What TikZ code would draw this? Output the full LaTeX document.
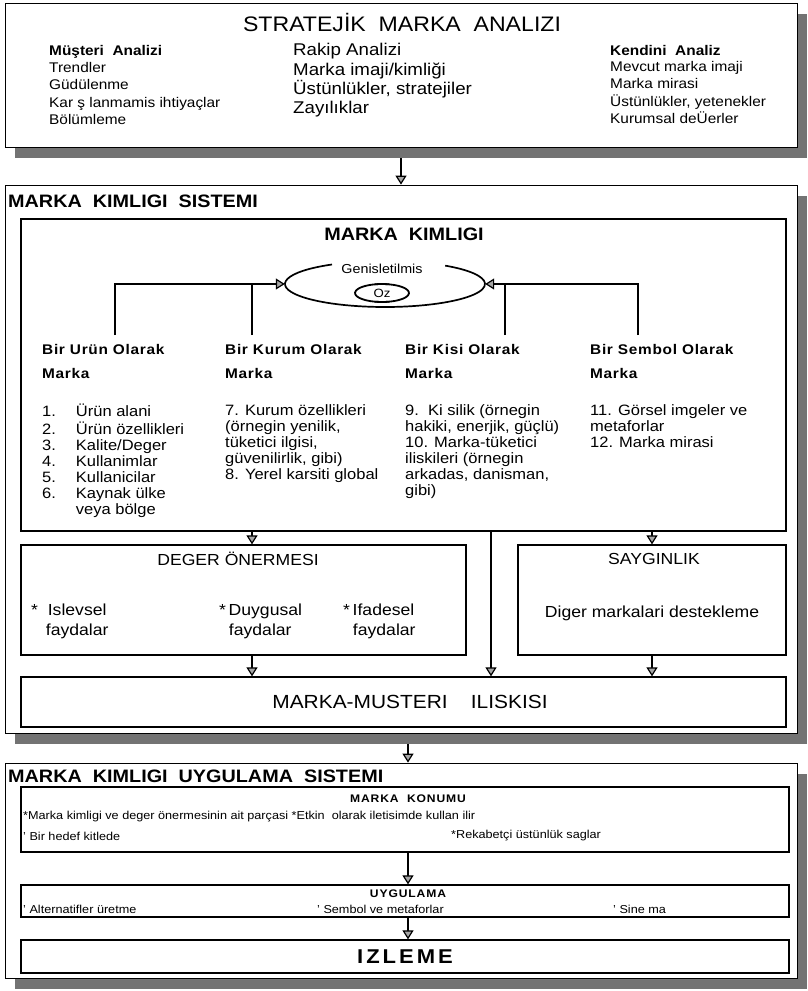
\documentclass[tikz,border=0pt]{standalone}
\usepackage{fontspec}
\setmainfont[FakeStretch=1.1]{Liberation Sans}
\usetikzlibrary{arrows.meta,shapes.geometric,shadows}
\newcommand{\fs}[2]{\fontsize{#1}{#2}\selectfont}

\begin{document}
\begin{tikzpicture}[x=1pt, y=-1pt,
    every node/.style={inner sep=0pt},
    panel/.style={draw, line width=0.8pt, fill=white,
      drop shadow={shadow xshift=10pt, shadow yshift=-11pt, fill=black!55, opacity=1}},
    frame/.style={draw, line width=1.3pt, fill=white},
    arr/.style={line width=1.2pt, -{Triangle[length=9pt, width=11pt, fill=black!35]}},
    link/.style={line width=1.2pt},
    head/.style={font=\bfseries\fs{18}{21}},
    colhead/.style={anchor=north west, align=left, font=\bfseries\fs{14}{24}\addfontfeature{LetterSpace=5}},
    items/.style={anchor=north west, align=left, font=\fs{15}{16}},
    small/.style={anchor=west, font=\fs{11.5}{13}},
    ]
  \useasboundingbox (0,0) rectangle (808,991);

  \node[panel, minimum width=792pt, minimum height=144pt] (sma) at (401,75) {};
  \node[font=\fs{21}{24}] (smat) at (402,22) {STRATEJİK\ \ MARKA\ \ ANALIZI};
  \node[anchor=west, font=\bfseries\fs{14}{16}] (mus) at (49,52) {Müşteri\ \ Analizi};
  \node[anchor=north west, align=left, font=\fs{14}{17.4}] (musl) at (49,62) {Trendler\\Güdülenme\\Kar ş lanmamis ihtiyaçlar\\Bölümleme};
  \node[anchor=west, font=\fs{17}{18}] (rak) at (293,51) {Rakip Analizi};
  \node[anchor=north west, align=left, font=\fs{17}{19}] (rakl) at (293,63) {Marka imaji/kimliği\\Üstünlükler, stratejiler\\Zayılıklar};
  \node[anchor=west, font=\bfseries\fs{14}{16}] (ken) at (610,50) {Kendini\ \ Analiz};
  \node[anchor=north west, align=left, font=\fs{14}{17.4}] (kenl) at (610,61) {Mevcut marka imaji\\Marka mirasi\\Üstünlükler, yetenekler\\Kurumsal deÜerler};

  \node[panel, minimum width=792pt, minimum height=548pt] (mks) at (401,459) {};
  \node[head, anchor=west] (mkst) at (8,201) {MARKA\ \ KIMLIGI\ \ SISTEMI};
  \node[frame, minimum width=765pt, minimum height=312pt] (mk) at (403.5,375) {};
  \node[head] (mkt) at (404,234) {MARKA\ \ KIMLIGI};

  \node[ellipse, minimum width=200pt, minimum height=46pt] (oz) at (385,284) {};
  \draw[line width=1.7pt] ([shift={(122:100pt and 23pt)}]oz.center) arc[start angle=122, end angle=413, x radius=100pt, y radius=23pt];
  \node[font=\fs{13}{15}] (gen) at (382,269) {Genisletilmis};
  \node[font=\fs{12}{13}] (ozt) at (382,293) {Oz};
  \draw[line width=1.8pt] ([shift={(75:27pt and 9pt)}]ozt.center) arc[start angle=75, end angle=285, x radius=27pt, y radius=9pt];
  \draw[line width=1.8pt] ([shift={(-105:27pt and 9pt)}]ozt.center) arc[start angle=-105, end angle=105, x radius=27pt, y radius=9pt];

  \coordinate (b1) at (115,335);
  \coordinate (b2) at (252,335);
  \coordinate (b3) at (505,335);
  \coordinate (b4) at (638,335);
  \draw[arr] (b1) |- (oz.west);
  \draw[link] (b2) -- (b2 |- oz.west);
  \draw[arr] (b4) |- (oz.east);
  \draw[link] (b3) -- (b3 |- oz.east);

  \node[colhead] (urn) at (42,344) {Bir Urün Olarak\\Marka};
  \node[colhead] (kur) at (225,344) {Bir Kurum Olarak\\Marka};
  \node[colhead] (kis) at (405,344) {Bir Kisi Olarak\\Marka};
  \node[colhead] (sem) at (590,344) {Bir Sembol Olarak\\Marka};
  \node[items] (urnl) at (42,404) {\begin{tabular}{@{}l@{\hspace{20pt}}l@{}}1.&Ürün alani\\2.&Ürün özellikleri\\3.&Kalite/Deger\\4.&Kullanimlar\\5.&Kullanicilar\\6.&Kaynak ülke\\&veya bölge\end{tabular}};
  \node[items] (kurl) at (225,404) {7. Kurum özellikleri\\(örnegin yenilik,\\tüketici ilgisi,\\güvenilirlik, gibi)\\8. Yerel karsiti global};
  \node[items] (kisl) at (405,404) {9.\ \ Ki silik (örnegin\\hakiki, enerjik, güçlü)\\10. Marka-tüketici\\iliskileri (örnegin\\arkadas, danisman,\\gibi)};
  \node[items] (seml) at (590,404) {11. Görsel imgeler ve\\metaforlar\\12. Marka mirasi};

  \node[frame, minimum width=445pt, minimum height=110pt] (deger) at (243.5,600) {};
  \node[font=\fs{16}{18}] (degt) at (238,559) {DEGER ÖNERMESI};
  \node[anchor=north west, align=left, font=\fs{16}{20}] (isl) at (31,604) {*\ \ Islevsel\\\ \ \ faydalar};
  \node[anchor=north west, align=left, font=\fs{16}{20}] (duy) at (219,604) {*\,Duygusal\\\ \ faydalar};
  \node[anchor=north west, align=left, font=\fs{16}{20}] (ifa) at (343,604) {*\,Ifadesel\\\ \ faydalar};

  \node[frame, minimum width=268pt, minimum height=110pt] (sayg) at (652,600) {};
  \node[font=\fs{16}{18}] (saygt) at (654,559) {SAYGINLIK};
  \node[font=\fs{16}{18}] (dig) at (652,613) {Diger markalari destekleme};

  \node[frame, minimum width=765pt, minimum height=50pt] (mmi) at (403.5,702) {};
  \node[font=\fs{19}{22}] (mmit) at (410,702) {MARKA-MUSTERI\ \ \ \ ILISKISI};

  \coordinate (mid) at (491,0);
  \coordinate (ax) at (408,0);
  \draw[arr, shorten <=11pt] (sma.south) -- (mks.north);
  \draw[arr] (b2 |- mk.south) -- (b2 |- deger.north);
  \draw[arr] (sayg.north |- mk.south) -- (sayg.north);
  \draw[arr] (mid |- mk.south) -- (mid |- mmi.north);
  \draw[arr] (b2 |- deger.south) -- (b2 |- mmi.north);
  \draw[arr] (sayg.south) -- (sayg.south |- mmi.north);

  \node[panel, minimum width=792pt, minimum height=215pt] (uys) at (401,870.5) {};
  \node[head, anchor=west] (uyst) at (8,776) {MARKA\ \ KIMLIGI\ \ UYGULAMA\ \ SISTEMI};
  \node[frame, minimum width=768pt, minimum height=65pt] (kon) at (405,819.5) {};
  \node[font=\bfseries\fs{11}{13}\addfontfeature{LetterSpace=8}] (kont) at (408,799) {MARKA\ \ KONUMU};
  \node[small] (kon1) at (23,817) {*Marka kimligi ve deger önermesinin ait parçasi *Etkin\ \ olarak iletisimde kullan ilir};
  \node[small] (kon2) at (23,836) {'\ Bir hedef kitlede};
  \node[small] (kon3) at (451,836) {*Rekabetçi üstünlük saglar};

  \node[frame, minimum width=768pt, minimum height=32pt] (uyg) at (405,901) {};
  \node[font=\bfseries\fs{11}{13}\addfontfeature{LetterSpace=8}] (uygt) at (408,894) {UYGULAMA};
  \node[small] (uyg1) at (23,909) {'\ Alternatifler üretme};
  \node[small] (uyg2) at (317,909) {'\ Sembol ve metaforlar};
  \node[small] (uyg3) at (613,909) {'\ Sine ma};

  \node[frame, minimum width=768pt, minimum height=33pt] (izl) at (405,956.5) {};
  \node[font=\bfseries\fs{20}{22}\addfontfeature{LetterSpace=15}] (izlt) at (405,957) {IZLEME};

  \draw[arr, shorten <=11pt] (ax |- mks.south) -- (ax |- uys.north);
  \draw[arr] (ax |- kon.south) -- (ax |- uyg.north);
  \draw[arr] (ax |- uyg.south) -- (ax |- izl.north);
\end{tikzpicture}
\end{document}
